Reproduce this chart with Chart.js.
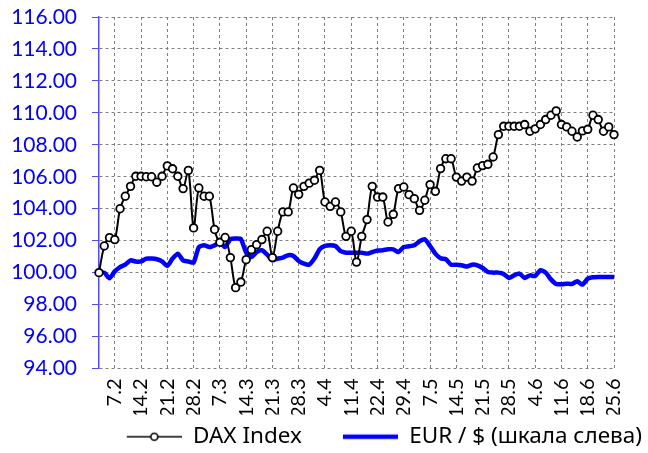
<!DOCTYPE html>
<html>
<head>
<meta charset="utf-8">
<script src="https://cdn.jsdelivr.net/npm/chart.js@4.4.1/dist/chart.umd.min.js"></script>
<style>
  body { margin: 0; background: #fff; }
  #wrap { width: 648px; height: 453px; }
</style>
</head>
<body>
<div id="wrap"><canvas id="daxChart"></canvas></div>
<script>
// Trading days, Feb - Jun 2014
const dates = [
    '4.2', '5.2', '6.2', '7.2', '10.2', '11.2', '12.2', '13.2', '14.2', '17.2', '18.2', '19.2', '20.2', '21.2', '24.2', '25.2', '26.2', '27.2', '28.2',
    '3.3', '4.3', '5.3', '6.3', '7.3', '10.3', '11.3', '12.3', '13.3', '14.3', '17.3', '18.3', '19.3', '20.3', '21.3', '24.3', '25.3', '26.3', '27.3', '28.3', '31.3',
    '1.4', '2.4', '3.4', '4.4', '7.4', '8.4', '9.4', '10.4', '11.4', '14.4', '15.4', '16.4', '17.4', '22.4', '23.4', '24.4', '25.4', '28.4', '29.4', '30.4',
    '2.5', '5.5', '6.5', '7.5', '8.5', '9.5', '12.5', '13.5', '14.5', '15.5', '16.5', '19.5', '20.5', '21.5', '22.5', '23.5', '26.5', '27.5', '28.5', '29.5', '30.5',
    '2.6', '3.6', '4.6', '5.6', '6.6', '9.6', '10.6', '11.6', '12.6', '13.6', '16.6', '17.6', '18.6', '19.6', '20.6', '23.6', '24.6', '25.6'
];

// Labels shown on the x axis
const tickLabels = ['7.2', '14.2', '21.2', '28.2', '7.3', '14.3', '21.3', '28.3', '4.4', '11.4',
    '22.4', '29.4', '7.5', '14.5', '21.5', '28.5', '4.6', '11.6', '18.6', '25.6'];

const daxIndex = [
    100.0, 101.67, 102.19, 102.07, 104.0, 104.78, 105.4, 106.03, 106.03, 106.0,
    106.0, 105.66, 106.03, 106.68, 106.5, 106.03, 105.26, 106.4, 102.8, 105.3,
    104.78, 104.78, 102.7, 101.9, 102.2, 100.94, 99.06, 99.41, 100.81, 101.44,
    101.75, 102.07, 102.59, 100.94, 102.59, 103.8, 103.8, 105.3, 104.9, 105.4,
    105.6, 105.78, 106.4, 104.42, 104.15, 104.42, 103.8, 102.27, 102.59, 100.66,
    102.27, 103.32, 105.4, 104.73, 104.73, 103.17, 103.65, 105.26, 105.36, 104.88,
    104.63, 103.9, 104.53, 105.51, 105.09, 106.51, 107.13, 107.13, 105.98, 105.73,
    105.98, 105.73, 106.55, 106.7, 106.78, 107.24, 108.64, 109.16, 109.16, 109.16,
    109.16, 109.27, 108.85, 109.0, 109.27, 109.58, 109.85, 110.12, 109.27, 109.12,
    108.85, 108.49, 108.87, 108.97, 109.85, 109.58, 108.85, 109.12, 108.64
];

const eurUsd = [
    100.0, 100.0, 99.65, 100.08, 100.35, 100.5, 100.77, 100.7, 100.7, 100.88,
    100.88, 100.84, 100.7, 100.42, 100.88, 101.19, 100.77, 100.7, 100.63, 101.6,
    101.71, 101.6, 101.71, 101.88, 101.6, 102.09, 102.13, 102.1, 101.25, 100.98,
    101.29, 101.4, 101.13, 100.77, 100.88, 100.94, 101.09, 101.04, 100.73, 100.56,
    100.5, 100.88, 101.46, 101.67, 101.71, 101.67, 101.34, 101.25, 101.25, 101.25,
    101.25, 101.19, 101.29, 101.38, 101.4, 101.46, 101.46, 101.29, 101.6, 101.65,
    101.71, 101.96, 102.09, 101.67, 101.19, 100.9, 100.84, 100.5, 100.5, 100.46,
    100.38, 100.5, 100.46, 100.29, 100.04, 100.0, 100.0, 99.92, 99.67, 99.83,
    99.94, 99.67, 99.83, 99.79, 100.15, 100.0, 99.58, 99.29, 99.27, 99.31,
    99.29, 99.46, 99.25, 99.62, 99.71, 99.73, 99.73, 99.73, 99.73
];

const FONT = 'Lato, "Noto Sans", sans-serif';
const LEGEND_FONT = '"Noto Sans", sans-serif';
const GRID = '#808080';
const AXIS_BLUE = '#4d4dff';

// Legend markers: line (with a point for DAX), transparent space on the left
function legendMarker(color, width, withPoint) {
    const c = document.createElement('canvas');
    c.width = 90;
    c.height = 14;
    const g = c.getContext('2d');
    g.strokeStyle = color;
    g.lineWidth = width;
    g.beginPath();
    g.moveTo(35, 7);
    g.lineTo(90, 7);
    g.stroke();
    if (withPoint) {
        g.beginPath();
        g.arc(62.5, 7, 3.5, 0, Math.PI * 2);
        g.fillStyle = '#fff';
        g.fill();
        g.lineWidth = 1.6;
        g.stroke();
    }
    return c;
}
const markers = [legendMarker('#000', 1.6, true), legendMarker('#0000ff', 4.5, false)];

// nudge the legend a few pixels down
const legendShift = {
    id: 'legendShift',
    afterLayout(chart) {
        if (chart.legend) {
            chart.legend.top += 5;
            chart.legend.bottom += 5;
        }
    }
};

document.addEventListener('DOMContentLoaded', function() {
    const ctx = document.getElementById('daxChart');
    new Chart(ctx, {
        type: 'line',
        data: {
            labels: dates,
            datasets: [{
                label: 'DAX Index',
                data: daxIndex,
                borderColor: '#000',
                borderWidth: 2,
                tension: 0.3,
                pointRadius: 3.8,
                pointBorderWidth: 1.8,
                pointBackgroundColor: '#fff',
                pointBorderColor: '#000'
            }, {
                label: 'EUR / $ (шкала слева)',
                data: eurUsd,
                borderColor: '#0000ff',
                borderWidth: 4.5,
                tension: 0.2,
                pointRadius: 0
            }]
        },
        plugins: [legendShift],
        options: {
            responsive: true,
            maintainAspectRatio: false,
            animation: false,
            layout: {
                padding: { left: 4, right: 0, top: 17, bottom: 0 }
            },
            plugins: {
                tooltip: { enabled: false },
                legend: {
                    position: 'bottom',
                    align: 'end',
                    labels: {
                        usePointStyle: true,
                        pointStyleWidth: 90,
                        padding: 6,
                        color: '#000',
                        font: { family: LEGEND_FONT, size: 22.5 },
                        generateLabels: chart => chart.data.datasets.map((ds, i) => ({
                            text: ds.label,
                            pointStyle: markers[i],
                            fillStyle: 'transparent',
                            strokeStyle: 'transparent',
                            lineWidth: 1,
                            fontColor: '#000',
                            hidden: false,
                            datasetIndex: i
                        }))
                    }
                }
            },
            scales: {
                x: {
                    offset: false,
                    afterBuildTicks: scale => {
                        scale.ticks = scale.ticks.filter(t => tickLabels.includes(dates[t.value]));
                    },
                    afterFit: scale => { scale.height = 46; },
                    grid: { color: GRID, lineWidth: 1, drawTicks: false },
                    border: { display: false, dash: [3, 3] },
                    ticks: {
                        autoSkip: false,
                        maxRotation: 90,
                        minRotation: 90,
                        padding: 10,
                        color: '#000',
                        font: { family: FONT, size: 20 }
                    }
                },
                y: {
                    position: 'left',
                    min: 94,
                    max: 116,
                    afterFit: scale => {
                        scale.width = 95;
                        scale.paddingTop = 0;
                        scale.paddingBottom = 0;
                    },
                    grid: { color: GRID, lineWidth: 1, tickColor: AXIS_BLUE, tickLength: 7, tickBorderDash: [] },
                    border: { color: AXIS_BLUE, width: 1.5, dash: [3, 3] },
                    ticks: {
                        stepSize: 2,
                        padding: 15,
                        color: '#0000ff',
                        font: { family: FONT, size: 21 },
                        callback: v => v.toFixed(2)
                    }
                },
                yRight: {
                    position: 'right',
                    min: 94,
                    max: 116,
                    afterFit: scale => { scale.width = 26; },
                    grid: { drawOnChartArea: false, drawTicks: false },
                    border: { display: false },
                    ticks: { display: false }
                }
            }
        }
    });
});
</script>
</body>
</html>
